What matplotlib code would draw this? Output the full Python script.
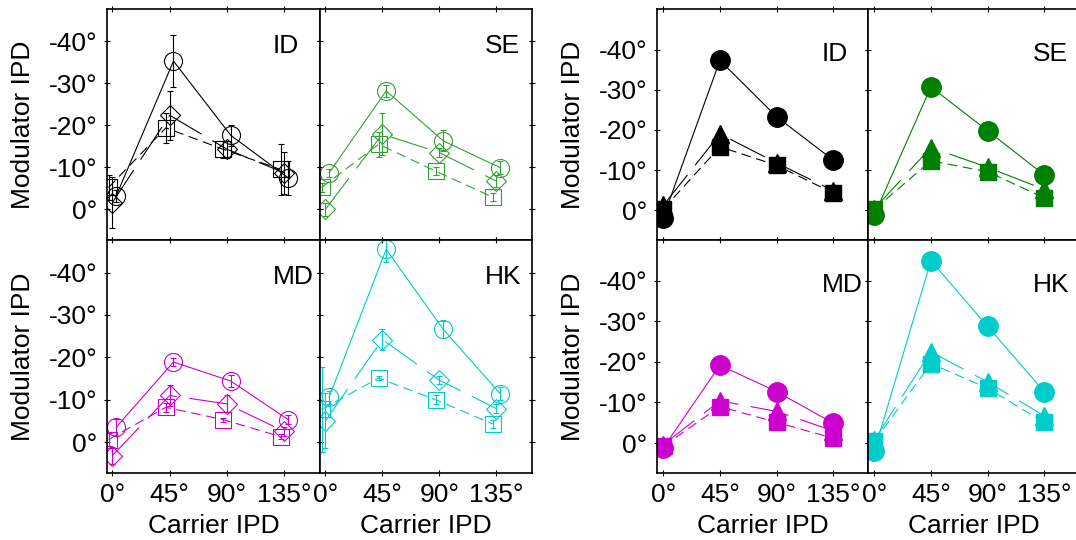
import matplotlib
matplotlib.use("Agg")
import matplotlib.pyplot as plt
import numpy as np

plt.rcParams['font.family'] = ['Liberation Sans', 'DejaVu Sans']
plt.rcParams['lines.scale_dashes'] = False

# carrier IPD (deg) and panel names, row-major: ID, SE / MD, HK
carrier = [0, 45, 90, 135]
carrier_labels = ["0°", "45°", "90°", "135°"]
subjects = ["ID", "SE", "MD", "HK"]
mod_ticks = [0, -10, -20, -30, -40]
mod_labels = ["0°", "-10°", "-20°", "-30°", "-40°"]

# left group: open markers with error bars (rows = subjects)
open_circle = [[-3.2, -35.3, -17.6, -7.5],
               [-8.7, -28.2, -16.3, -9.9],
               [-3.5, -18.9, -14.4, -5.3],
               [-10.6, -45.5, -26.6, -11.4]]
open_circle_err = [[1.5, 6.2, 2.5, 4.0],
                   [1.0, 1.5, 2.5, 1.5],
                   [2.0, 1.0, 1.5, 1.0],
                   [1.5, 3.0, 2.0, 1.5]]
open_diamond = [[-1.6, -22.4, -14.3, -8.7],
                [0.0, -17.9, -13.5, -6.7],
                [3.2, -11.0, -9.0, -2.5],
                [-5.0, -24.2, -14.6, -7.9]]
open_diamond_err = [[6.0, 5.8, 2.0, 5.0],
                    [1.5, 5.0, 1.0, 1.5],
                    [2.0, 2.5, 2.0, 1.0],
                    [6.5, 2.5, 1.0, 1.0]]
open_square = [[-5.2, -19.4, -14.3, -9.5],
               [-5.2, -15.5, -9.1, -2.9],
               [-0.6, -8.2, -5.3, -1.3],
               [-7.7, -15.1, -10.0, -4.3]]
open_square_err = [[3.0, 3.5, 2.0, 6.0],
                   [1.0, 3.0, 1.0, 1.0],
                   [1.5, 1.0, 0.5, 0.5],
                   [10.0, 0.5, 1.0, 1.0]]

# right group: filled markers
filled_circle = [[1.8, -37.3, -23.3, -12.5],
                 [1.2, -30.7, -19.8, -8.8],
                 [1.2, -19.2, -12.7, -4.9],
                 [2.0, -45.0, -28.8, -12.7]]
filled_triangle = [[-1.2, -19.0, -11.8, -4.9],
                   [-0.4, -15.6, -10.7, -5.2],
                   [0.4, -10.4, -7.8, -3.0],
                   [-0.8, -22.5, -15.1, -6.7]]
filled_square = [[-0.3, -15.8, -11.2, -4.3],
                 [-0.2, -12.3, -9.6, -3.1],
                 [0.8, -9.0, -5.1, -1.2],
                 [-0.4, -19.6, -13.5, -5.1]]

left_colors = ["black", "#33a033", "#cc00cc", "#00cccc"]
right_colors = ["black", "#008000", "#cc00cc", "#00cccc"]

long_dash = (0, (28, 9))
short_dash = (0, (7, 4))
FS = 19

W, H = 1076, 540
fig = plt.figure(figsize=(W / 100, H / 100), dpi=100)


def make_axes(x0, x1, y0, y1):
    return fig.add_axes([x0 / W, 1 - y1 / H, (x1 - x0) / W, (y1 - y0) / H])


def style_axes(ax, row, col, xlim, ylim):
    ax.set_xlim(*xlim)
    ax.set_ylim(*ylim)
    ax.set_xticks(carrier)
    ax.set_yticks(mod_ticks)
    ax.tick_params(direction='inout', length=4, width=0.8, top=True, right=True,
                   labelsize=FS, pad=5)
    for sp in ax.spines.values():
        sp.set_linewidth(1.2)
    if col == 0:
        ax.set_yticklabels(mod_labels)
        ax.set_ylabel("Modulator IPD", fontsize=FS, labelpad=10)
    else:
        ax.set_yticklabels([])
    if row == 1:
        ax.set_xticklabels(carrier_labels)
        ax.set_xlabel("Carrier IPD", fontsize=FS, labelpad=5)
    else:
        ax.set_xticklabels([])


x = np.array(carrier, dtype=float)
rows_px = [(9, 240), (240, 473)]

# left group
left_cols_px = [(107, 320), (320, 532)]
for i, name in enumerate(subjects):
    r, c = divmod(i, 2)
    ax = make_axes(*left_cols_px[c], *rows_px[r])
    col = left_colors[i]
    series = [(open_circle, open_circle_err, 'o', 13, '-', 3),
              (open_diamond, open_diamond_err, 'D', 10, long_dash, 0),
              (open_square, open_square_err, 's', 12, short_dash, -3)]
    for vals, errs, mk, ms, ls, dx in series:
        ax.errorbar(x + dx, vals[i], yerr=errs[i], color=col, marker=mk, markersize=ms,
                    markerfacecolor='none', markeredgewidth=0.8, linestyle=ls, linewidth=0.8,
                    elinewidth=0.8, capsize=2, capthick=0.8)
    ax.text(126, -39, name, fontsize=FS, ha='left', va='center')
    style_axes(ax, r, c, (-4.2, 163), (7.3, -47.7))

# right group
right_cols_px = [(657, 868), (868, 1079)]
for i, name in enumerate(subjects):
    r, c = divmod(i, 2)
    ax = make_axes(*right_cols_px[c], *rows_px[r])
    col = right_colors[i]
    ax.plot(x, filled_circle[i], color=col, marker='o', markersize=14, linestyle='-', linewidth=0.8)
    ax.plot(x, filled_triangle[i], color=col, marker='^', markersize=13, linestyle=long_dash, linewidth=0.8)
    ax.plot(x, filled_square[i], color=col, marker='s', markersize=12, linestyle=short_dash, linewidth=0.8)
    ax.text(126, -39, name, fontsize=FS, ha='left', va='center')
    style_axes(ax, r, c, (-5, 162.7), (7.4, -50.1))

fig.savefig("out.png", dpi=100)
